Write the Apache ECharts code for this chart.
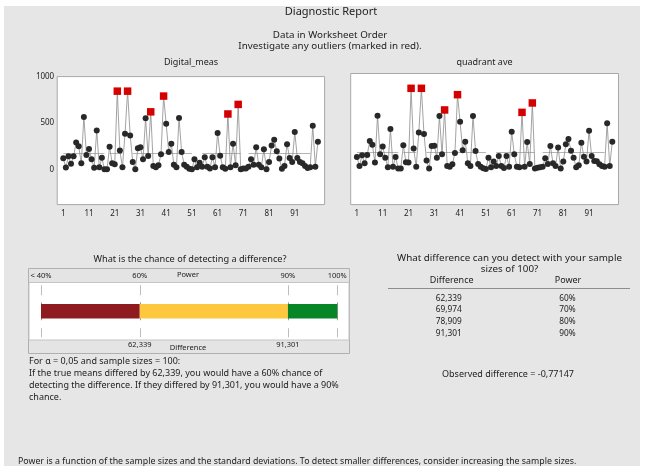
<!DOCTYPE html>
<html><head><meta charset="utf-8">
<script src="https://cdn.jsdelivr.net/npm/echarts@6/dist/echarts.min.js"></script>
<style>
html,body{margin:0;padding:0;background:#fff;}
#wrap{position:relative;width:649px;height:466px;background:#fff;overflow:hidden;}
#panel{position:absolute;left:4px;top:6px;width:636px;height:460px;background:#e6e6e6;}
#c{position:absolute;left:0;top:0;width:649px;height:466px;}
</style>
</head><body>
<div id="wrap"><div id="panel"></div><div id="c"></div></div>
<script>
// ---- data ----
const digitalMeas = [120,20,140,60,140,290,250,65,565,155, 220,110,18,420,22,125,0,0,245,65,
  55,843,203,22,384,843,366,80,0,228, 239,108,550,145,620,36,22,43,163,790,
  492,188,275,50,22,554,188,50,29,7, 0,108,22,72,29,130,29,10,130,22,
  391,148,22,7,597,22,275,43,700,0, 10,10,29,108,50,239,50,22,217,0,
  80,257,318,195,116,7,36,271,123,80, 402,123,80,65,36,14,22,470,29,297];
const quadrantAve = [130,33,148,62,152,304,264,69,579,159, 243,123,18,434,25,130,4,4,257,72,
  69,876,221,25,395,876,380,91,4,250, 253,123,576,159,641,33,25,51,174,807,
  514,203,297,62,33,576,195,54,25,7, 0,123,18,80,33,141,33,11,141,25,
  405,159,25,18,615,25,293,54,717,4, 14,18,25,116,54,250,62,33,232,4,
  80,268,326,199,123,18,40,286,134,80, 416,141,87,83,51,33,25,496,33,297];
const outlierObs = [22,26,35,40,65,69];
const obsTicks = [1,11,21,31,41,51,61,71,81,91];
const digitalYTicks = [0,500,1000];
const digitalMean = 172;
const quadrantMean = 181;
const meanSegments = [[1,17],[19,24],[28,51],[55,70],[73,97]];
const powerTicks = [40,60,90,100];
const powerTickLabels = ['< 40%','60%','90%','100%'];
const powerBands = [[40,60],[60,90],[90,100]];
const diffTicks = [60,90];
const diffTickLabels = ['62,339','91,301'];
const tableDiffs = ['62,339','69,974','78,909','91,301'];
const tablePowers = ['60%','70%','80%','90%'];
const observedDiff = '-0,77147';
const alpha = '0,05';
const sampleSize = 100;

// ---- styles ----
const FONT = '"Noto Sans", "Open Sans", sans-serif';
const TXT = '#222222';
const bandColors = ['#8e1b20','#fdc83e','#078627'];

function obsSeries(values, mean, xi, yi){
  return {
    type:'line', xAxisIndex:xi, yAxisIndex:yi, animation:false, silent:true,
    showAllSymbol:true, symbol:'circle', symbolSize:6,
    lineStyle:{color:'#8c8c8c', width:0.8},
    itemStyle:{color:'#282828'},
    data: values.map((v,i)=>{
      const out = outlierObs.indexOf(i+1) >= 0;
      return out ? {value:[i+1,v], symbol:'rect', symbolSize:7.5, itemStyle:{color:'#d50000'}} : {value:[i+1,v]};
    }),
    markLine:{
      silent:true, symbol:['none','none'], label:{show:false}, z:1,
      lineStyle:{color:'#b4b4b4', type:'solid', width:1},
      data: meanSegments.map(s=>[{coord:[s[0],mean]},{coord:[s[1],mean]}])
    }
  };
}

function obsX(grid, min, max){
  return {type:'value', gridIndex:grid, min:min, max:max,
    axisLine:{show:false}, axisTick:{show:false}, splitLine:{show:false},
    axisLabel:{customValues:obsTicks, fontSize:8, fontFamily:FONT, color:TXT, margin:5}};
}

function t(x,y,text,size,align,extra){
  return Object.assign({type:'text', x:x, y:y, z:100, silent:true,
    style:{text:text, font: size+'px '+FONT, fill:TXT, textAlign:align||'center',
      textVerticalAlign:'middle', verticalAlign:'middle'}}, extra||{});
}

const graphics = [
  t(331,12,'Diagnostic Report',11),
  t(330,35,'Data in Worksheet Order',9.8),
  t(330,46,'Investigate any outliers (marked in red).',9.8),
  t(191,62,'Digital_meas',9),
  t(484.5,62,'quadrant ave',9),
  t(190,259,'What is the chance of detecting a difference?',9.2),
  // power box frame
  {type:'rect', z:-5, silent:true, shape:{x:28.5,y:268.5,width:321,height:85}, style:{fill:'#e4e4e4', stroke:'#b0b0b0', lineWidth:1}},
  {type:'rect', z:-4, silent:true, shape:{x:29,y:282.5,width:320,height:57.5}, style:{fill:'#ffffff', stroke:'#c4c4c4', lineWidth:1}},
  t(188,274.5,'Power',7.5),
  t(188,347.5,'Difference',7.5),
  t(29,361,'For \u03b1 = '+alpha+' and sample sizes = '+sampleSize+':',9,'left'),
  t(29,373.5,'If the true means differed by '+diffTickLabels[0]+', you would have a '+powerTickLabels[1]+' chance of',9,'left'),
  t(29,385.5,'detecting the difference. If they differed by '+diffTickLabels[1]+', you would have a '+powerTickLabels[2],9,'left'),
  t(29,397,'chance.',9,'left'),
  t(509.5,258.3,'What difference can you detect with your sample',9.8),
  t(509.5,269.5,'sizes of '+sampleSize+'?',9.8),
  t(451.7,280.7,'Difference',9),
  t(568,280.7,'Power',9),
  {type:'line', z:50, silent:true, shape:{x1:388,y1:288.5,x2:630,y2:288.5}, style:{stroke:'#8c8c8c', lineWidth:1}},
  t(508,374,'Observed difference = '+observedDiff,9),
  t(18,461,'Power is a function of the sample sizes and the standard deviations. To detect smaller differences, consider increasing the sample sizes.',8.8,'left')
];
const rowY = [298.3,310,322,334];
tableDiffs.forEach((d,i)=>{
  graphics.push(t(448.8,rowY[i],d,8.3));
  graphics.push(t(567.5,rowY[i],tablePowers[i],8.3));
});

const chart = echarts.init(document.getElementById('c'), null, {renderer:'canvas'});
chart.setOption({
  animation:false,
  textStyle:{fontFamily:FONT},
  graphic: graphics,
  grid:[
    {left:57.2, top:76.6, width:267.4, height:128, show:true, backgroundColor:'#fff', borderColor:'#a8a8a8', borderWidth:1},
    {left:350.7, top:73.5, width:267.8, height:131.1, show:true, backgroundColor:'#fff', borderColor:'#a8a8a8', borderWidth:1},
    {left:41, top:282.5, width:296.3, height:57.5, show:false}
  ],
  xAxis:[
    obsX(0,-1.37,102.6),
    obsX(1,-1.4,102.4),
    {type:'value', gridIndex:2, position:'top', min:40, max:100, z:20,
      axisLine:{show:false}, axisTick:{show:false}, splitLine:{show:false},
      axisLabel:{customValues:powerTicks, formatter:v=>powerTickLabels[powerTicks.indexOf(v)], fontSize:7.5, fontFamily:FONT, color:TXT, margin:3}},
    {type:'value', gridIndex:2, position:'bottom', min:40, max:100, z:20,
      axisLine:{show:false}, axisTick:{show:false}, splitLine:{show:false},
      axisLabel:{customValues:diffTicks, formatter:v=>diffTickLabels[diffTicks.indexOf(v)], fontSize:7.5, fontFamily:FONT, color:TXT, margin:1}}
  ],
  yAxis:[
    {type:'value', gridIndex:0, min:-380, max:1000,
      axisLine:{show:false}, axisTick:{show:false}, splitLine:{show:false},
      axisLabel:{customValues:digitalYTicks, formatter:v=>String(v), fontSize:8, fontFamily:FONT, color:TXT, margin:3}},
    {type:'value', gridIndex:1, min:-387, max:1037,
      axisLine:{show:false}, axisTick:{show:false}, splitLine:{show:false}, axisLabel:{show:false}},
    {type:'category', gridIndex:2, data:['power'], show:false}
  ],
  series:[
    obsSeries(digitalMeas, digitalMean, 0, 0),
    obsSeries(quadrantAve, quadrantMean, 1, 1),
    {type:'custom', xAxisIndex:2, yAxisIndex:2, silent:true, z:3,
      data: powerTicks.map(p=>[p]),
      renderItem:function(params, api){
        const c = api.coord([api.value(0),0]);
        const x = Math.round(c[0])+0.5;
        const st = {stroke:'#bdbdbd', lineWidth:1};
        return {type:'group', children:[
          {type:'line', shape:{x1:x,y1:c[1]-26,x2:x,y2:c[1]-16}, style:st},
          {type:'line', shape:{x1:x,y1:c[1]-9,x2:x,y2:c[1]+9}, style:{stroke:'#9a9a9a', lineWidth:1}},
          {type:'line', shape:{x1:x,y1:c[1]+17,x2:x,y2:c[1]+26}, style:st}
        ]};
      }},
    {type:'custom', xAxisIndex:2, yAxisIndex:2, silent:true, z:4,
      data: powerBands.map((b,i)=>[b[0],b[1],i]),
      renderItem:function(params, api){
        const s = api.coord([api.value(0),0]);
        const e = api.coord([api.value(1),0]);
        return {type:'rect', shape:{x:s[0], y:s[1]-7.15, width:e[0]-s[0], height:14.3},
          style:{fill:bandColors[api.value(2)]}};
      }}
  ]
});
</script>
</body></html>
